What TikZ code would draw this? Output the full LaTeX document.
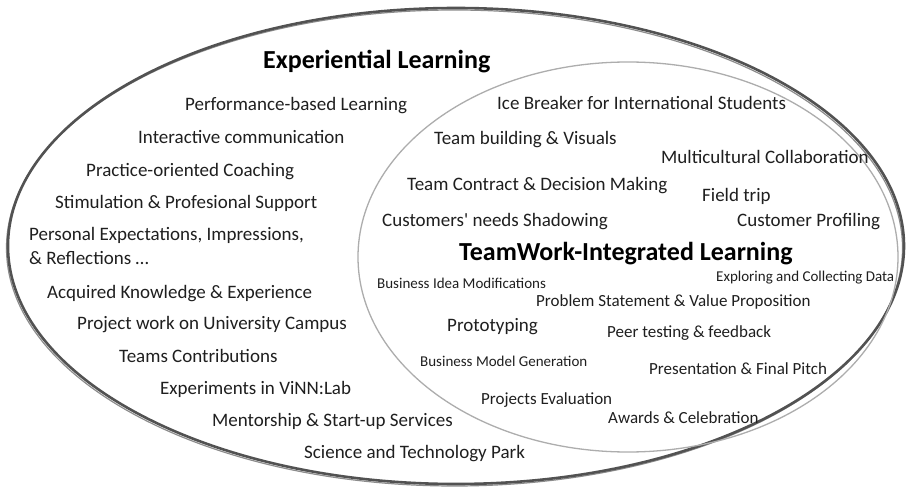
\documentclass[tikz,border=0pt]{standalone}
\usepackage{fontspec}
\setmainfont{Carlito}[Ligatures=TeXOff]
\tikzset{
  lbl/.style={anchor=west, inner sep=0pt, yshift=-4.5pt, text=black!88, font=\fontsize{19}{22}\selectfont, text height=0.65em, text depth=0.2em},
  lblmid/.style={lbl, font=\fontsize{17}{20}\selectfont},
  lblsmall/.style={lbl, font=\fontsize{15}{18}\selectfont},
  ttl/.style={lbl, yshift=-1pt, font=\bfseries\fontsize{26}{30}\selectfont, text=black},
  outerring/.style={draw=black!68, line width=2.6pt},
  outershade/.style={draw=black!45, line width=1.2pt},
  innerring/.style={draw=black!32, line width=1.3pt},
}
\begin{document}
\begin{tikzpicture}[x=1pt,y=-1pt]
\useasboundingbox[fill=white] (0,0) rectangle (908,489);
% ellipses
\draw[outershade] (454.5,248) ellipse [x radius=448, y radius=238];
\draw[outerring] (456,246) ellipse [x radius=448, y radius=238];
\draw[innerring] (628,257) ellipse [x radius=270, y radius=195];
% outer circle labels
\node[ttl] (el) at (263,61) {Experiential Learning};
\node[lbl] (pbl) at (185,104) {Performance-based Learning};
\node[lbl] (ic) at (138,137) {Interactive communication};
\node[lbl] (poc) at (86,170) {Practice-oriented Coaching};
\node[lbl] (sps) at (55,202) {Stimulation \& Profesional Support};
\node[lbl] (pei) at (29,234) {Personal Expectations, Impressions,};
\node[lbl] (refl) at (29,258) {\& Reflections …};
\node[lbl] (ake) at (47,292) {Acquired Knowledge \& Experience};
\node[lbl] (pwu) at (77,323) {Project work on University Campus};
\node[lbl] (tcon) at (119,356) {Teams Contributions};
\node[lbl] (evl) at (160,388) {Experiments in ViNN:Lab};
\node[lbl] (mss) at (212,420) {Mentorship \& Start-up Services};
\node[lbl] (stp) at (304,452) {Science and Technology Park};
% inner circle labels
\node[lbl] (ib) at (497,103) {Ice Breaker for International Students};
\node[lbl] (tbv) at (434,138) {Team building \& Visuals};
\node[lbl] (mc) at (661,157) {Multicultural Collaboration};
\node[lbl] (tcd) at (407,184) {Team Contract \& Decision Making};
\node[lbl] (ft) at (702,195) {Field trip};
\node[lbl] (cns) at (382,220) {Customers' needs Shadowing};
\node[lbl] (cp) at (737,220) {Customer Profiling};
\node[ttl] (twl) at (459,253) {TeamWork-Integrated Learning};
\node[lblsmall] (bim) at (377,282) {Business Idea Modifications};
\node[lblsmall] (ecd) at (716,275) {Exploring and Collecting Data};
\node[lblmid] (psv) at (536,300) {Problem Statement \& Value Proposition};
\node[lbl] (proto) at (447,325) {Prototyping};
\node[lblmid] (ptf) at (607,331) {Peer testing \& feedback};
\node[lblsmall] (bmg) at (420,360) {Business Model Generation};
\node[lblmid] (pfp) at (649,368) {Presentation \& Final Pitch};
\node[lblmid] (pe) at (481,398) {Projects Evaluation};
\node[lblmid] (ac) at (608,417) {Awards \& Celebration};
\end{tikzpicture}
\end{document}
